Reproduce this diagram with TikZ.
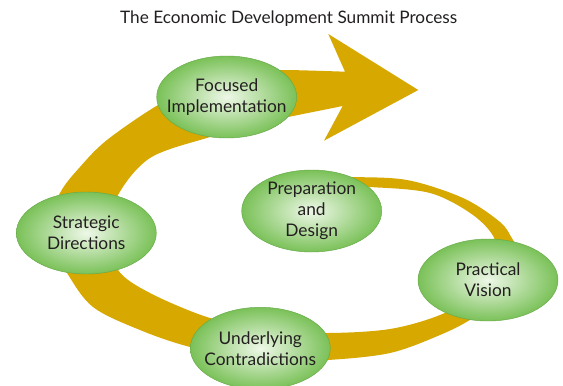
\documentclass[tikz,border=0pt]{standalone}
\usepackage{fontspec}
\setmainfont{Lato}
\usetikzlibrary{shapes.geometric}
\usetikzlibrary{positioning}

\definecolor{spiralgold}{RGB}{214,168,0}
\definecolor{leafgreen}{RGB}{122,193,88}
\definecolor{leaflight}{RGB}{238,248,232}
\definecolor{leafedge}{RGB}{104,170,74}
\definecolor{inktext}{RGB}{35,31,32}

\tikzset{
  stage/.style={ellipse, draw=leafedge, line width=0.4pt, shading=radial,
    inner color=leaflight, outer color=leafgreen, minimum width=4.2cm,
    minimum height=2.46cm, inner xsep=-0.4cm, inner ysep=-0.1cm,
    align=center, text=inktext, font=\fontsize{14.8}{18}\selectfont},
  heading/.style={text=inktext, font=\fontsize{14.7}{17}\selectfont}
}

\begin{document}
\begin{tikzpicture}[x=0.03cm,y=-0.03cm]
\useasboundingbox (0,0) rectangle (563,385);

% spiral band with its arrow head
\fill[spiralgold] plot[smooth,tension=0.55] coordinates {(345,71.7) (283,70) (250,72) (200,85) (158,105) (107,140) (80,167) (60,193) (45,233) (67,273) (93,307) (140,330) (190,347) (260,362) (328,360) (390,353) (440,335) (473,318) (510,290) (525,260) (513,240) (500,222) (463,198) (407,180) (350,177) (330,177)}
  -- plot[smooth,tension=0.55] coordinates {(330,186) (370,187) (430,193) (473,215) (495,240) (490,265) (475,295) (440,315) (390,329) (328,333) (270,330) (210,318) (150,293) (118,270) (110,235) (117,197) (150,158) (210,137) (250,125) (286.7,117.3) (342.7,106)}
  -- (324,140.7) -- (418.3,90) -- (328.3,34) -- cycle;

\node[heading] (title) at (288.7,19) {The Economic Development Summit Process};

\node[stage] (fi) at (226.7,97) {Focused\\Implementation};
\node[stage] (sd) at (86.3,233) {Strategic\\Directions};
\node[stage] (pd) at (311.7,211) {Preparation\\and\\Design};
\node[stage] (pv) at (488,280) {Practical\\Vision};
\node[stage] (uc) at (260.3,348.3) {Underlying\\Contradictions};

\end{tikzpicture}
\end{document}
